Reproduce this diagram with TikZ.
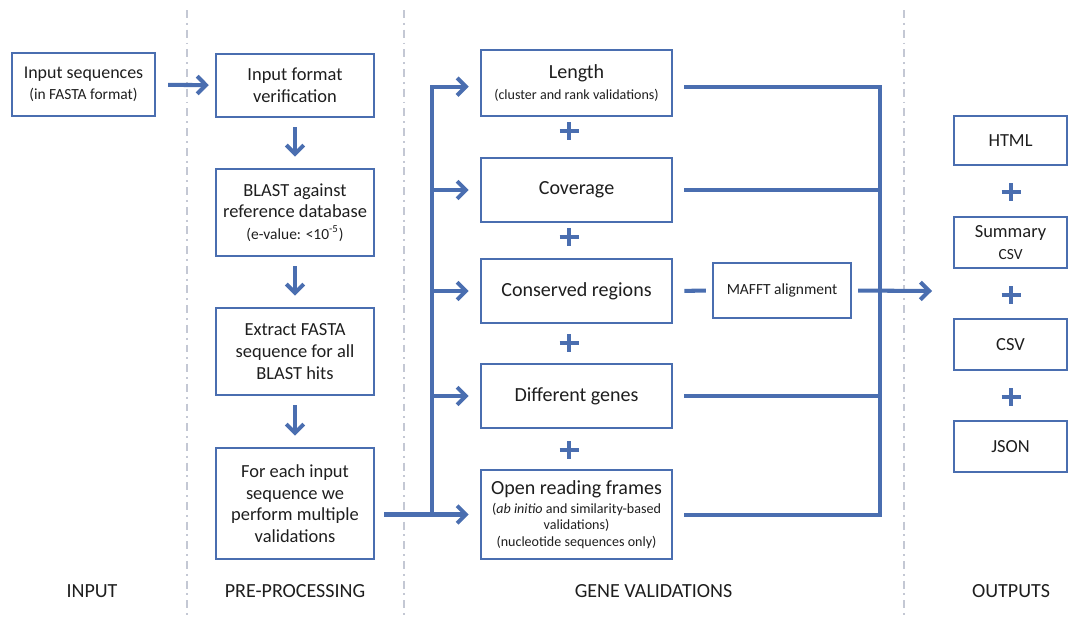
\documentclass[tikz,border=0pt]{standalone}
\usepackage{fontspec}
\setmainfont{Carlito}
\usetikzlibrary{arrows.meta}
\definecolor{flowblue}{HTML}{4A6EB0}
\definecolor{sepgrey}{HTML}{C4C8D4}
\definecolor{txt}{HTML}{1E1E1E}
\newcommand{\mainsz}{\fontsize{10.5}{12.3}\selectfont}
\newcommand{\bigsz}{\fontsize{11.4}{13.5}\selectfont}
\newcommand{\smallsz}{\fontsize{8.8}{10.5}\selectfont}
\newcommand{\tinysz}{\fontsize{8}{9.5}\selectfont}
\begin{document}
\begin{tikzpicture}[x=0.02cm, y=-0.02cm, >={Straight Barb[length=5pt,width=10pt]},
    box/.style={draw=flowblue, line width=1.4pt, align=center, text=txt, font=\mainsz, inner sep=2pt},
    valbox/.style={box, font=\bigsz, minimum width=3.82cm},
    outbox/.style={box, minimum width=2.26cm},
    flow/.style={draw=flowblue, line width=2.3pt},
    plusmark/.style={draw=flowblue, line width=2.8pt},
    sep/.style={draw=sepgrey, line width=1pt, dash pattern=on 4.5pt off 2.8pt on 1.1pt off 2.8pt},
    phase/.style={text=txt, font=\bigsz}]
    \useasboundingbox (0,0) rectangle (1084,643);

    % Separators
    \foreach \x in {187,404,904}
        \draw[sep] (\x,10) -- (\x,620);

    % Input
    \node[box, font=\fontsize{10.2}{12.3}\selectfont, minimum width=2.86cm, minimum height=1.26cm] at (83.5,84.5) (inp) {Input sequences\\{\smallsz (in FASTA format)}};

    % Pre-processing
    \node[box, minimum width=3.16cm, minimum height=1.26cm] at (295,85.5) (fmt) {Input format\\verification};
    \node[box, minimum width=3.16cm, minimum height=1.74cm] at (295,212.5) (blast) {BLAST against\\reference database\\{\smallsz (e-value: <10\textsuperscript{-5})}};
    \node[box, minimum width=3.16cm, minimum height=1.74cm] at (295,351.5) (extr) {Extract FASTA\\sequence for all\\BLAST hits};
    \node[box, minimum width=3.16cm, minimum height=2.22cm] at (295,503.5) (each) {For each input\\sequence we\\perform multiple\\validations};

    % Gene validations
    \node[valbox, minimum height=1.32cm] at (576.5,83) (len) {Length\\[-2pt]{\tinysz (cluster and rank validations)}};
    \node[valbox, minimum height=1.28cm] at (576.5,190) (cov) {Coverage};
    \node[valbox, minimum height=1.28cm] at (576.5,291) (cons) {Conserved regions};
    \node[valbox, minimum height=1.28cm] at (576.5,396) (diff) {Different genes};
    \node[valbox, minimum height=1.78cm] at (576.5,514.5) (orf) {Open reading frames\\[-2.5pt]{\tinysz (\textit{ab initio} and similarity-based}\\[-4.2pt]{\tinysz validations)}\\[-4.2pt]{\tinysz (nucleotide sequences only)}};
    \node[box, font=\smallsz, minimum width=2.76cm, minimum height=1.1cm] at (782,290.5) (mafft) {MAFFT alignment};

    % Outputs
    \node[outbox, minimum height=0.98cm] at (1010.5,140.5) (html) {HTML};
    \node[outbox, minimum height=1.02cm] at (1010.5,242.5) (summ) {Summary\\{\smallsz CSV}};
    \node[outbox, minimum height=1.02cm] at (1010.5,344.5) (csv) {CSV};
    \node[outbox, minimum height=1.02cm] at (1010.5,446.5) (json) {JSON};

    % Bus points
    \coordinate (ltop) at (432,86.7);
    \coordinate (rtop) at (880,86.7);
    \coordinate (rbot) at (880,515);
    \coordinate (outarr) at (932,291);

    % Edges
    \draw[flow, ->, shorten <=6.8pt, shorten >=3.4pt] (inp) -- (fmt);
    \draw[flow, ->, shorten <=5pt, shorten >=6.3pt] (fmt) -- (blast);
    \draw[flow, ->, shorten <=5pt, shorten >=6.3pt] (blast) -- (extr);
    \draw[flow, ->, shorten <=5pt, shorten >=6.3pt] (extr) -- (each);
    \draw[flow, ->, shorten <=5pt, shorten >=6.3pt] (each.east |- orf.west) -- (orf.west);
    \draw[flow, ->, shorten >=6.3pt] (ltop |- orf.west) -- (ltop) -- (ltop -| len.west);
    \foreach \n in {cov,cons,diff}
        \draw[flow, ->, shorten >=6.3pt] (ltop |- \n.west) -- (\n.west);
    \draw[flow, shorten <=6.3pt, shorten >=6.3pt] (len.east |- rtop) -- (rtop) -- (rbot) -- (orf.east |- rbot);
    \foreach \n in {cov,diff}
        \draw[flow, shorten <=6.3pt] (\n.east) -- (\n.east -| rtop);
    \draw[flow, shorten <=6.3pt, shorten >=3.4pt] (cons.east) -- (mafft.west);
    \draw[flow, ->, shorten <=3.4pt] (mafft.east) -- (outarr);

    % Plus signs
    \foreach \y in {131,237,343,450}
        \draw[plusmark] (569,\y) +(-9.5,0) -- +(9.5,0) +(0,-9) -- +(0,9);
    \foreach \y in {192,295,397}
        \draw[plusmark] (1011,\y) +(-9.5,0) -- +(9.5,0) +(0,-9) -- +(0,9);

    % Phase labels
    \node[phase] at (92,591) (lblin) {INPUT};
    \node[phase] at (295,591) (lblpre) {PRE-PROCESSING};
    \node[phase] at (653.5,591) (lblgene) {GENE VALIDATIONS};
    \node[phase] at (1011,591) (lblout) {OUTPUTS};
\end{tikzpicture}
\end{document}
